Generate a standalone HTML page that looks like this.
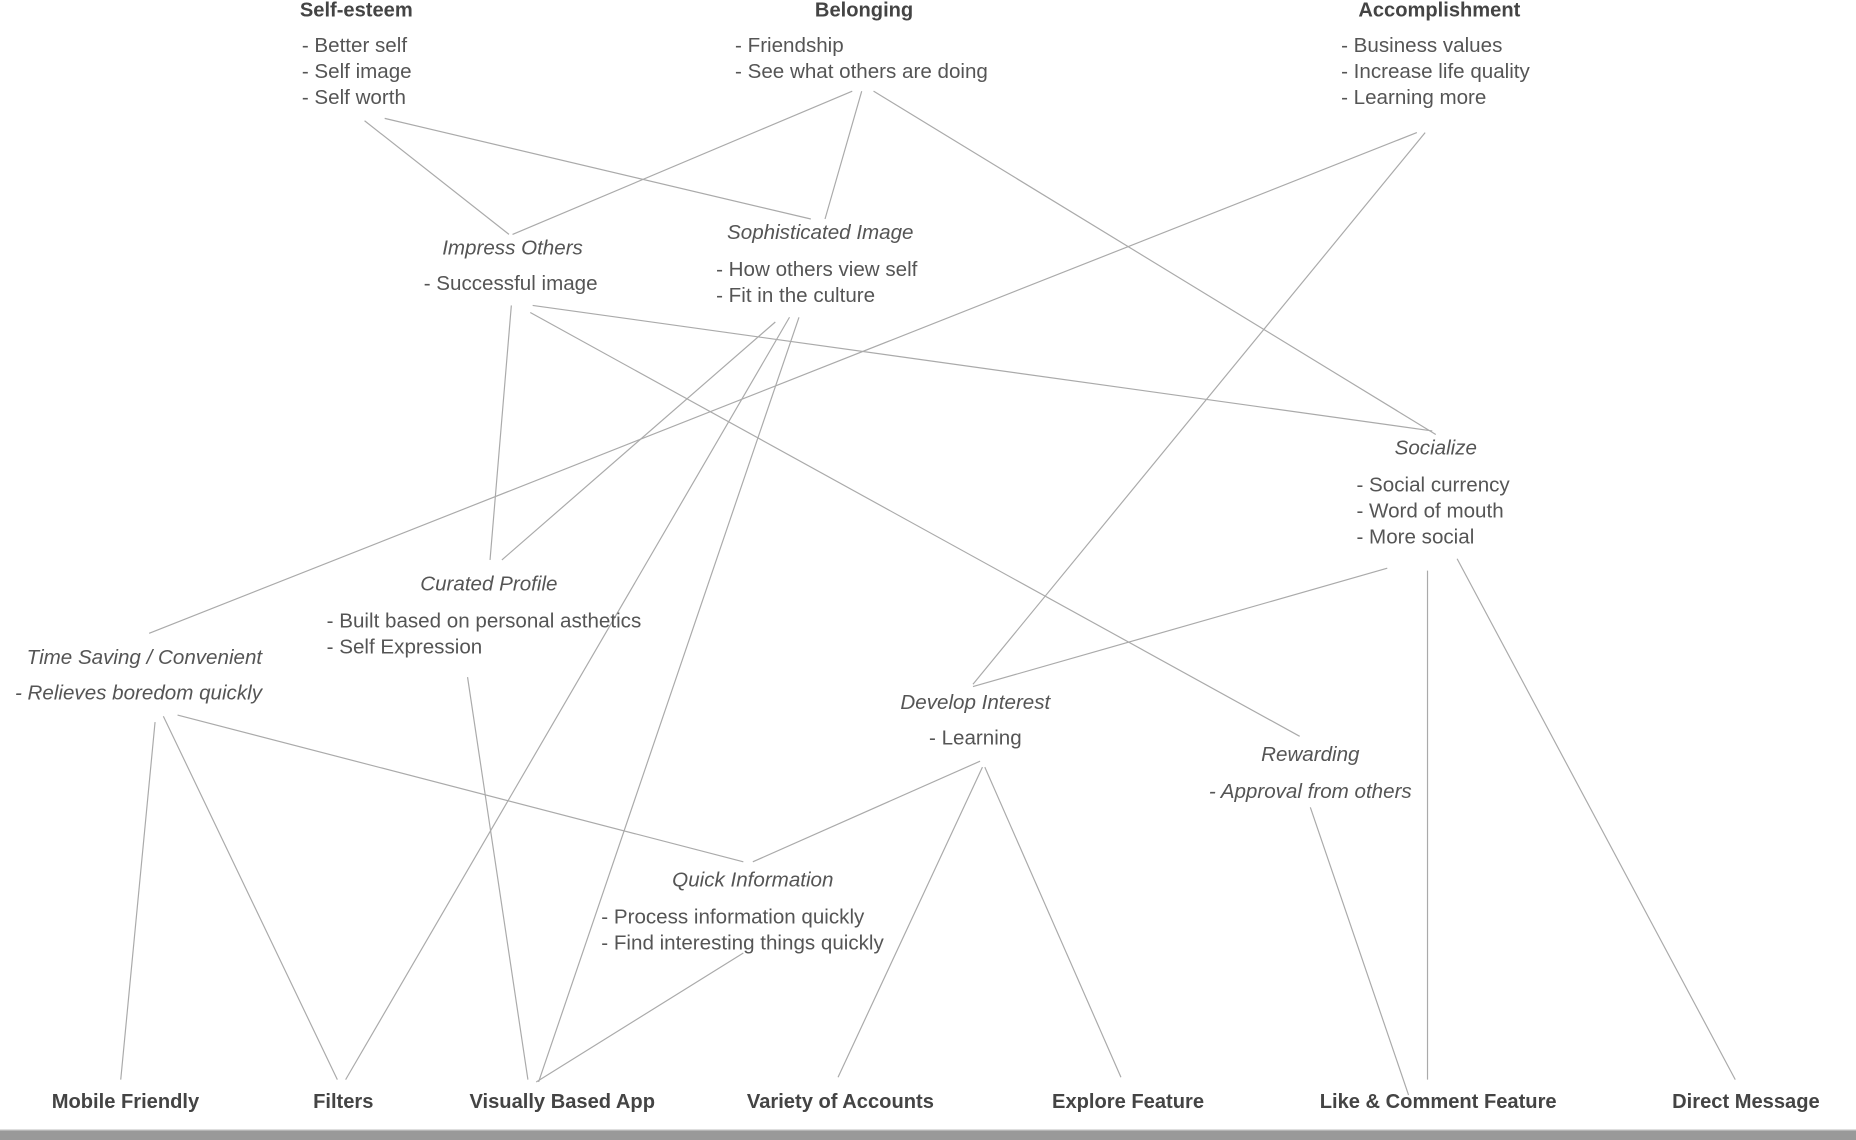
<!DOCTYPE html>
<html><head><meta charset="utf-8"><style>
html,body{margin:0;padding:0;background:#fff;width:1856px;height:1140px;overflow:hidden}
svg{display:block}
text{font-family:"Liberation Sans Narrow","Liberation Sans",sans-serif;font-size:17.4px;fill:#555}
.b{font-weight:bold;fill:#444;font-size:17px}
.i{font-style:italic}
.c{text-anchor:middle}
line{stroke:#aaa;stroke-width:1}
</style></head><body>
<svg width="1856" height="1140" viewBox="0 0 1568 963" preserveAspectRatio="none" xmlns="http://www.w3.org/2000/svg">
<g>
<line x1="308" y1="102" x2="430" y2="198"/>
<line x1="325" y1="100" x2="685" y2="185"/>
<line x1="720" y1="77" x2="433" y2="198"/>
<line x1="728" y1="77" x2="697" y2="185"/>
<line x1="738" y1="77" x2="1213" y2="367"/>
<line x1="1197" y1="112" x2="126" y2="535"/>
<line x1="1204" y1="112" x2="822" y2="578"/>
<line x1="432" y1="258" x2="414" y2="473"/>
<line x1="450" y1="258" x2="1210" y2="364"/>
<line x1="448" y1="264" x2="1098" y2="622"/>
<line x1="655" y1="272" x2="424" y2="473"/>
<line x1="667" y1="268" x2="292" y2="912"/>
<line x1="675" y1="268" x2="455" y2="914"/>
<line x1="1172" y1="480" x2="822" y2="580"/>
<line x1="1206" y1="482" x2="1206" y2="912"/>
<line x1="1231" y1="472" x2="1466" y2="912"/>
<line x1="131" y1="610" x2="102" y2="912"/>
<line x1="138" y1="605" x2="285" y2="912"/>
<line x1="150" y1="604" x2="628" y2="728"/>
<line x1="828" y1="643" x2="636" y2="728"/>
<line x1="830" y1="648" x2="708" y2="910"/>
<line x1="832" y1="648" x2="947" y2="910"/>
<line x1="395" y1="572" x2="446" y2="912"/>
<line x1="628" y1="805" x2="453" y2="914"/>
<line x1="1107" y1="682" x2="1190" y2="925"/>
</g>
<rect x="0" y="954" width="1568" height="1" fill="#ccc"/>
<rect x="0" y="955" width="1568" height="8" fill="#999"/>

<text class="b c" x="301" y="14">Self-esteem</text>
<text x="255" y="44">- Better self</text>
<text x="255" y="66">- Self image</text>
<text x="255" y="88">- Self worth</text>

<text class="b c" x="730" y="14">Belonging</text>
<text x="621" y="44">- Friendship</text>
<text x="621" y="66">- See what others are doing</text>

<text class="b c" x="1216" y="14">Accomplishment</text>
<text x="1133" y="44">- Business values</text>
<text x="1133" y="66">- Increase life quality</text>
<text x="1133" y="88">- Learning more</text>

<text class="i c" x="433" y="215">Impress Others</text>
<text x="358" y="245">- Successful image</text>

<text class="i c" x="693" y="202">Sophisticated Image</text>
<text x="605" y="233">- How others view self</text>
<text x="605" y="255">- Fit in the culture</text>

<text class="i c" x="1213" y="384">Socialize</text>
<text x="1146" y="415">- Social currency</text>
<text x="1146" y="437">- Word of mouth</text>
<text x="1146" y="459">- More social</text>

<text class="i c" x="413" y="499">Curated Profile</text>
<text x="276" y="530">- Built based on personal asthetics</text>
<text x="276" y="552">- Self Expression</text>

<text class="i c" x="122" y="561">Time Saving / Convenient</text>
<text class="i c" x="117" y="591">- Relieves boredom quickly</text>

<text class="i c" x="824" y="599">Develop Interest</text>
<text class="c" x="824" y="629">- Learning</text>

<text class="i c" x="1107" y="643">Rewarding</text>
<text class="i c" x="1107" y="674">- Approval from others</text>

<text class="i c" x="636" y="749">Quick Information</text>
<text x="508" y="780">- Process information quickly</text>
<text x="508" y="802">- Find interesting things quickly</text>

<text class="b c" x="106" y="936">Mobile Friendly</text>
<text class="b c" x="290" y="936">Filters</text>
<text class="b c" x="475" y="936">Visually Based App</text>
<text class="b c" x="710" y="936">Variety of Accounts</text>
<text class="b c" x="953" y="936">Explore Feature</text>
<text class="b c" x="1215" y="936">Like &amp; Comment Feature</text>
<text class="b c" x="1475" y="936">Direct Message</text>
</svg>
</body></html>
